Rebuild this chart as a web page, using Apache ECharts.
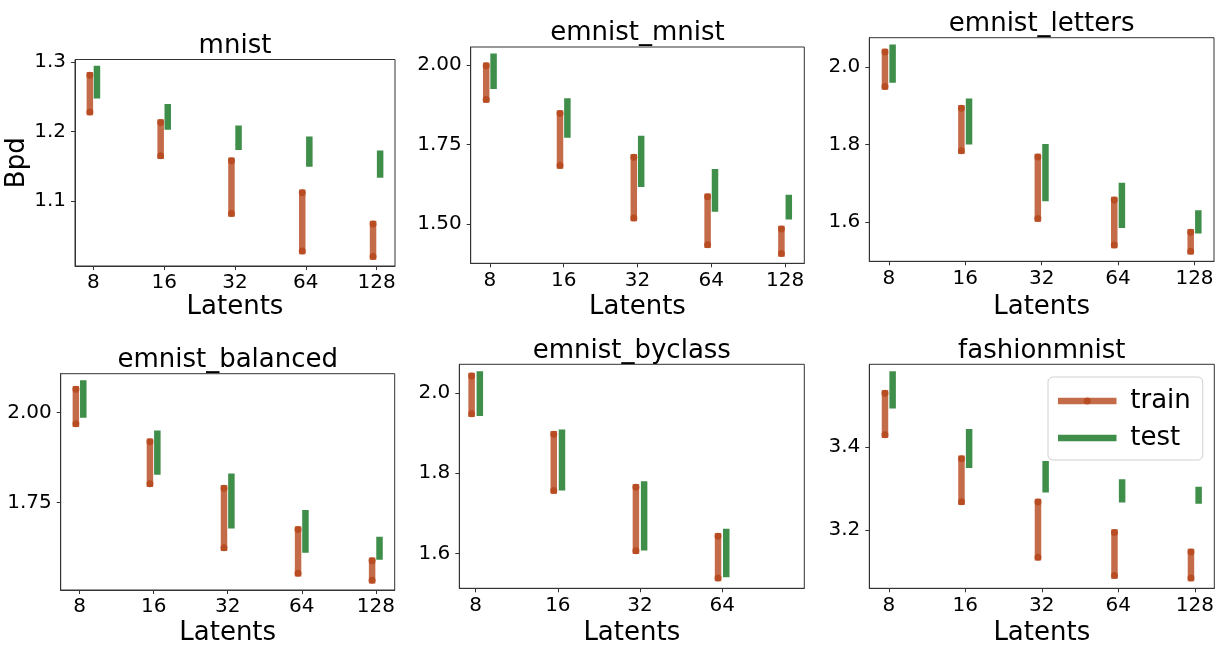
<!DOCTYPE html>
<html>
<head>
<meta charset="utf-8">
<script src="https://cdn.jsdelivr.net/npm/echarts@6/dist/echarts.min.js"></script>
<style>
  html, body { margin: 0; padding: 0; background: #fff; }
  #chart { width: 1225px; height: 656px; }
</style>
</head>
<body>
<div id="chart"></div>
<script>
// Latent sizes shown on every x axis
const latents = ['8', '16', '32', '64', '128'];

// Bits-per-dim ranges per latent size: [high, low]
const mnistTrain = [[1.281, 1.228], [1.213, 1.165], [1.158, 1.082], [1.112, 1.028], [1.067, 1.020]];
const mnistTest = [[1.290, 1.252], [1.235, 1.207], [1.204, 1.178], [1.188, 1.154], [1.168, 1.138]];

const emnistMnistTrain = [[1.997, 1.891], [1.847, 1.684], [1.710, 1.519], [1.586, 1.435], [1.485, 1.408]];
const emnistMnistTest = [[2.025, 1.934], [1.885, 1.781], [1.767, 1.627], [1.663, 1.549], [1.582, 1.525]];

const emnistLettersTrain = [[2.039, 1.950], [1.894, 1.784], [1.768, 1.609], [1.657, 1.541], [1.574, 1.525]];
const emnistLettersTest = [[2.050, 1.968], [1.911, 1.809], [1.793, 1.662], [1.693, 1.593], [1.622, 1.579]];

const emnistBalancedTrain = [[2.065, 1.969], [1.919, 1.802], [1.790, 1.624], [1.675, 1.553], [1.588, 1.534]];
const emnistBalancedTest = [[2.081, 1.995], [1.941, 1.836], [1.822, 1.687], [1.720, 1.619], [1.646, 1.600]];

const emnistByclassTrain = [[2.042, 1.948], [1.897, 1.757], [1.765, 1.607], [1.643, 1.539]];
const emnistByclassTest = [[2.046, 1.951], [1.901, 1.765], [1.772, 1.616], [1.654, 1.549]];

const fashionTrain = [[3.529, 3.429], [3.371, 3.268], [3.267, 3.134], [3.194, 3.090], [3.147, 3.084]];
const fashionTest = [[3.574, 3.500], [3.435, 3.357], [3.358, 3.298], [3.314, 3.274], [3.296, 3.271]];

// Y tick labels per panel
const mnistTicks = ['1.1', '1.2', '1.3'];
const emnistMnistTicks = ['1.50', '1.75', '2.00'];
const emnistLettersTicks = ['1.6', '1.8', '2.0'];
const emnistBalancedTicks = ['1.75', '2.00'];
const emnistByclassTicks = ['1.6', '1.8', '2.0'];
const fashionTicks = ['3.2', '3.4'];

const FONT = 'DejaVu Sans';
const TRAIN_COLOR = '#b5461c';
const TEST_COLOR = '#3f8e4a';
const SHIFT = 0.05;

// Panel layout: plot box in pixels, x extent, label baselines
const panels = [
  { title: 'mnist', train: mnistTrain, test: mnistTest, ticks: mnistTicks, nCat: 5,
    box: [75, 59.5, 320, 206.5], xr: [-0.26, 4.26], xName: 316, yName: 'Bpd' },
  { title: 'emnist_mnist', train: emnistMnistTrain, test: emnistMnistTest, ticks: emnistMnistTicks, nCat: 5,
    box: [470.7, 47, 333.6, 216.3], xr: [-0.26, 4.26], xName: 316 },
  { title: 'emnist_letters', train: emnistLettersTrain, test: emnistLettersTest, ticks: emnistLettersTicks, nCat: 5,
    box: [869.3, 37.7, 344.7, 223.6], xr: [-0.255, 4.255], xName: 316 },
  { title: 'emnist_balanced', train: emnistBalancedTrain, test: emnistBalancedTest, ticks: emnistBalancedTicks, nCat: 5,
    box: [60.7, 373.7, 334, 216.3], xr: [-0.255, 4.255], xName: 642 },
  { title: 'emnist_byclass', train: emnistByclassTrain, test: emnistByclassTest, ticks: emnistByclassTicks, nCat: 4,
    box: [459.3, 364.3, 345, 224], xr: [-0.2, 4.0], xName: 642 },
  { title: 'fashionmnist', train: fashionTrain, test: fashionTest, ticks: fashionTicks, nCat: 5,
    box: [869.3, 364.3, 345, 224], xr: [-0.255, 4.255], xName: 642 }
];

// Each range becomes a vertical segment; a '-' point breaks the line between segments
function segmentPoints(pairs, shift) {
  const pts = [];
  pairs.forEach(function (p, i) {
    pts.push([i + shift, p[0]], [i + shift, p[1]], [i + shift, '-']);
  });
  return pts;
}

const grids = [], xAxes = [], yAxes = [], series = [], titles = [];

panels.forEach(function (p, k) {
  const [left, top, width, height] = p.box;
  grids.push({
    left: left, top: top, width: width, height: height,
    show: true, borderColor: '#333', borderWidth: 1, backgroundColor: 'transparent',
    containLabel: false, outerBoundsMode: 'none'
  });

  const catIdx = latents.slice(0, p.nCat).map(function (_, i) { return i; });
  xAxes.push({
    type: 'value', gridIndex: k, min: p.xr[0], max: p.xr[1],
    axisLine: { show: true, onZero: false, lineStyle: { color: '#333', width: 1 } },
    splitLine: { show: false },
    axisTick: { show: true, customValues: catIdx, length: 4, lineStyle: { color: '#333', width: 1 } },
    axisLabel: {
      show: true, customValues: catIdx, margin: 7,
      color: '#000', fontFamily: FONT, fontSize: 20, lineHeight: 20,
      formatter: function (v) { return latents[Math.round(v)]; }
    },
    name: 'Latents', nameLocation: 'middle',
    nameGap: p.xName - (top + height) - 22,
    nameTextStyle: { color: '#000', fontFamily: FONT, fontSize: 26, lineHeight: 26 }
  });

  const tickVals = p.ticks.map(Number);
  const all = p.train.concat(p.test).flat();
  const lo = Math.min.apply(null, all), hi = Math.max.apply(null, all);
  const pad = (hi - lo) * 0.05;
  yAxes.push({
    type: 'value', gridIndex: k, min: lo - pad, max: hi + pad,
    axisLine: { show: true, onZero: false, lineStyle: { color: '#333', width: 1 } },
    splitLine: { show: false },
    axisTick: { show: true, customValues: tickVals, length: 4, lineStyle: { color: '#333', width: 1 } },
    axisLabel: {
      show: true, customValues: tickVals, margin: 9,
      color: '#000', fontFamily: FONT, fontSize: 20,
      formatter: function (v) {
        const i = tickVals.findIndex(function (t) { return Math.abs(t - v) < 1e-9; });
        return i >= 0 ? p.ticks[i] : '';
      }
    },
    name: p.yName || '', nameLocation: 'middle', nameGap: 41, nameRotate: 90,
    nameTextStyle: { color: '#000', fontFamily: FONT, fontSize: 26, lineHeight: 26 }
  });

  series.push({
    name: 'train', type: 'line', xAxisIndex: k, yAxisIndex: k,
    data: segmentPoints(p.train, -SHIFT),
    connectNulls: false,
    symbol: 'circle', symbolSize: 7, showSymbol: true,
    lineStyle: { color: TRAIN_COLOR, width: 6.5, opacity: 0.8, cap: 'square' },
    itemStyle: { color: TRAIN_COLOR, opacity: 0.8, borderWidth: 0 },
    emphasis: { disabled: true }, silent: true, z: 2
  });
  series.push({
    name: 'test', type: 'line', xAxisIndex: k, yAxisIndex: k,
    data: segmentPoints(p.test, SHIFT),
    connectNulls: false,
    symbol: 'none', showSymbol: false,
    lineStyle: { color: TEST_COLOR, width: 6.5, opacity: 1, cap: 'square' },
    itemStyle: { color: TEST_COLOR, opacity: 0, borderWidth: 0 },
    emphasis: { disabled: true }, silent: true, z: 3
  });

  // Title centred over its plot box
  titles.push({
    text: p.title, left: left + width / 2, top: top - 6.5 - 22, textAlign: 'center', padding: 0,
    textStyle: { color: '#000', fontFamily: FONT, fontSize: 26, fontWeight: 'normal', lineHeight: 30 }
  });
});

const chart = echarts.init(document.getElementById('chart'), null, { renderer: 'canvas' });
chart.setOption({
  animation: false,
  backgroundColor: '#fff',
  title: titles,
  grid: grids,
  xAxis: xAxes,
  yAxis: yAxes,
  series: series,
  legend: {
    data: ['train', 'test'],
    orient: 'vertical', left: 1048, top: 377,
    itemWidth: 52, itemHeight: 9, itemGap: 7,
    padding: [9, 12, 7, 10],
    backgroundColor: 'rgba(255,255,255,0.8)',
    borderColor: '#d0d0d0', borderWidth: 1, borderRadius: 5,
    lineStyle: { width: 6.5, cap: 'square' },
    textStyle: { color: '#000', fontFamily: FONT, fontSize: 26, lineHeight: 30, padding: [0, 0, 0, 12] },
    selectedMode: false
  }
});
</script>
</body>
</html>
